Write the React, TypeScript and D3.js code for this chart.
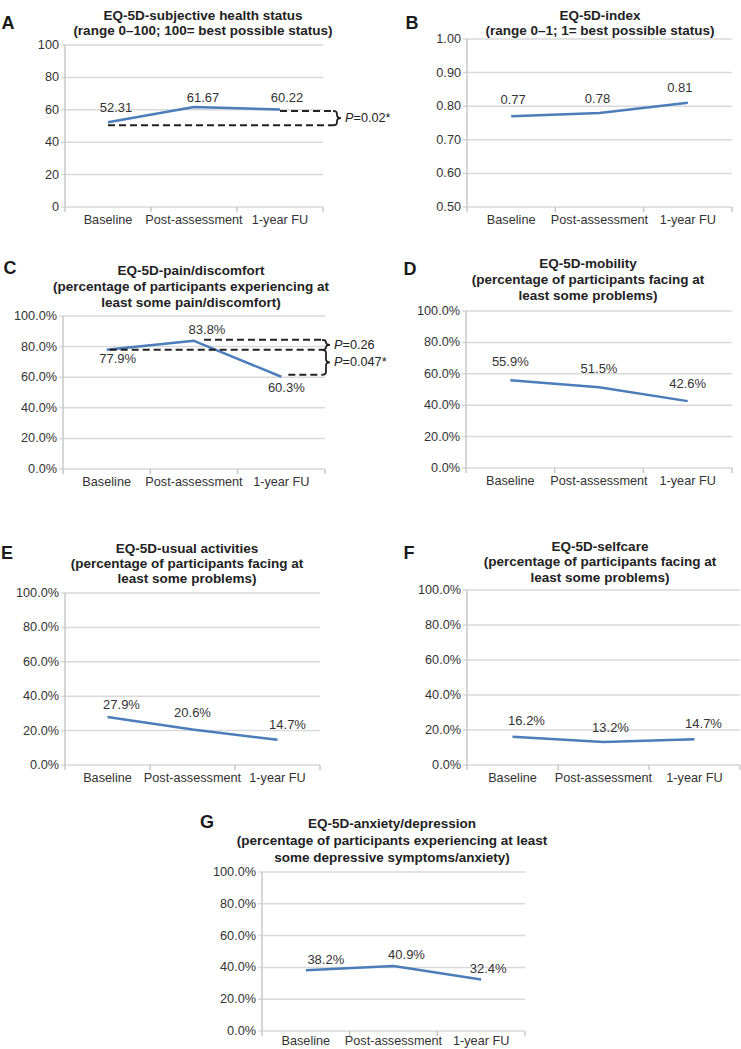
import React, { useRef, useEffect } from "react";
import * as d3 from "d3";

// categories on every x axis
const categories = ["Baseline", "Post-assessment", "1-year FU"];

// series values
const healthStatus = [52.31, 61.67, 60.22];
const eqIndex = [0.77, 0.78, 0.81];
const painDiscomfort = [77.9, 83.8, 60.3];
const mobility = [55.9, 51.5, 42.6];
const usualActivities = [27.9, 20.6, 14.7];
const selfcare = [16.2, 13.2, 14.7];
const anxietyDepression = [38.2, 40.9, 32.4];

// tick values
const scoreTicks = [0, 20, 40, 60, 80, 100];
const indexTicks = [0.5, 0.6, 0.7, 0.8, 0.9, 1.0];
const percentTicks = [0, 20, 40, 60, 80, 100];

// significance tests: which two time points, and the p text
const healthTests = [{ a: 0, b: 2, p: "=0.02*" }];
const painTests = [
  { a: 1, b: 0, p: "=0.26" },
  { a: 0, b: 2, p: "=0.047*" },
];

const FONT = "'Liberation Sans', Arial, Helvetica, sans-serif";
const LINE = "#4a7dba";
const GRID = "#d9d9d9";

const fmtScore = (d) => String(d);
const fmtIndex = (d) => d.toFixed(2);
const fmtPct = (d) => d.toFixed(1) + "%";

const panels = [
  {
    letter: "A", letterX: 8, letterY: 23,
    title: ["EQ-5D-subjective health status", "(range 0–100; 100= best possible status)"],
    titleX: 203, titleY: 15, titleGap: 15,
    values: healthStatus, ticks: scoreTicks, domain: [0, 100],
    tickFmt: fmtScore, valueFmt: (d) => d.toFixed(2),
    box: { l: 65, r: 323, t: 45, b: 207 }, xLabelGap: 13,
    labelOff: [[8, -15], [9, -10], [7, -12]],
    tests: healthTests, braceX: 333, dashStart: [0, 0, 0], dashShift: [3, 0, 1.5],
  },
  {
    letter: "B", letterX: 412, letterY: 23,
    title: ["EQ-5D-index", "(range 0–1; 1= best possible status)"],
    titleX: 600, titleY: 15, titleGap: 15,
    values: eqIndex, ticks: indexTicks, domain: [0.5, 1.0],
    tickFmt: fmtIndex, valueFmt: fmtIndex,
    box: { l: 467, r: 732, t: 39, b: 207 }, xLabelGap: 13,
    labelOff: [[2, -17], [-2, -14], [-8, -15]],
  },
  {
    letter: "C", letterX: 10, letterY: 268,
    title: ["EQ-5D-pain/discomfort", "(percentage of participants experiencing at", "least some pain/discomfort)"],
    titleX: 191, titleY: 270, titleGap: 16,
    values: painDiscomfort, ticks: percentTicks, domain: [0, 100],
    tickFmt: fmtPct, valueFmt: fmtPct,
    box: { l: 63, r: 325, t: 316, b: 469 }, xLabelGap: 13,
    labelOff: [[11, 9], [13, -11], [5, 11]],
    tests: painTests, braceX: 322, dashStart: [3, 10, 7], dashShift: [0, -1, -2],
  },
  {
    letter: "D", letterX: 410, letterY: 269,
    title: ["EQ-5D-mobility", "(percentage of participants facing at", "least some problems)"],
    titleX: 588, titleY: 263, titleGap: 16,
    values: mobility, ticks: percentTicks, domain: [0, 100],
    tickFmt: fmtPct, valueFmt: fmtPct,
    box: { l: 466, r: 732, t: 311, b: 468 }, xLabelGap: 13,
    labelOff: [[0, -19], [0, -19], [0, -18]],
  },
  {
    letter: "E", letterX: 7, letterY: 553,
    title: ["EQ-5D-usual activities", "(percentage of participants facing at", "least some problems)"],
    titleX: 187, titleY: 548, titleGap: 15,
    values: usualActivities, ticks: percentTicks, domain: [0, 100],
    tickFmt: fmtPct, valueFmt: fmtPct,
    box: { l: 65, r: 320, t: 593, b: 765 }, xLabelGap: 13,
    labelOff: [[14, -13], [0, -17], [10, -15]],
  },
  {
    letter: "F", letterX: 409, letterY: 553,
    title: ["EQ-5D-selfcare", "(percentage of participants facing at", "least some problems)"],
    titleX: 600, titleY: 546, titleGap: 15.5,
    values: selfcare, ticks: percentTicks, domain: [0, 100],
    tickFmt: fmtPct, valueFmt: fmtPct,
    box: { l: 467, r: 740, t: 590, b: 765 }, xLabelGap: 13,
    labelOff: [[14, -16], [7, -14], [9, -16]],
  },
  {
    letter: "G", letterX: 207, letterY: 822,
    title: ["EQ-5D-anxiety/depression", "(percentage of participants experiencing at least", "some depressive symptoms/anxiety)"],
    titleX: 392, titleY: 823, titleGap: 17,
    values: anxietyDepression, ticks: percentTicks, domain: [0, 100],
    tickFmt: fmtPct, valueFmt: fmtPct,
    box: { l: 262, r: 525, t: 872, b: 1031 }, xLabelGap: 10,
    labelOff: [[20, -11], [13, -11], [7, -11]],
  },
];

// curly brace "}" between y1 and y2
function bracePath(x, y1, y2) {
  const top = Math.min(y1, y2);
  const bot = Math.max(y1, y2);
  const m = (top + bot) / 2;
  const w = 4;
  const r = Math.min(3, (bot - top) / 4);
  return `M${x},${top} Q${x + w},${top} ${x + w},${top + r} L${x + w},${m - r} Q${x + w},${m} ${x + w + 4},${m} Q${x + w},${m} ${x + w},${m + r} L${x + w},${bot - r} Q${x + w},${bot} ${x},${bot}`;
}

const App = () => {
  const svgRef = useRef(null);

  useEffect(() => {
    const svg = d3.select(svgRef.current);
    svg.selectAll("*").remove();

    panels.forEach((p) => {
      const g = svg.append("g");
      const { l, r, t, b } = p.box;

      const x = d3.scaleBand().domain(categories).range([l, r]).padding(0);
      const y = d3.scaleLinear().domain(p.domain).range([b, t]);
      const cx = (c) => x(c) + x.bandwidth() / 2;

      // panel letter
      g.append("text")
        .attr("x", p.letterX)
        .attr("y", p.letterY)
        .attr("text-anchor", "middle")
        .attr("dominant-baseline", "central")
        .attr("font-family", FONT)
        .attr("font-weight", "bold")
        .attr("font-size", 18)
        .attr("fill", "#1a1a1a")
        .text(p.letter);

      // title
      p.title.forEach((line, i) => {
        g.append("text")
          .attr("x", p.titleX)
          .attr("y", p.titleY + i * p.titleGap)
          .attr("text-anchor", "middle")
          .attr("dominant-baseline", "central")
          .attr("font-family", FONT)
          .attr("font-weight", "bold")
          .attr("font-size", 13.5)
          .attr("fill", "#222")
          .text(line);
      });

      // gridlines + y tick marks + labels
      p.ticks.forEach((tv) => {
        g.append("line")
          .attr("x1", l - 4).attr("x2", r)
          .attr("y1", y(tv)).attr("y2", y(tv))
          .attr("stroke", GRID).attr("stroke-width", 1.5);
        g.append("text")
          .attr("x", l - 6)
          .attr("y", y(tv))
          .attr("text-anchor", "end")
          .attr("dominant-baseline", "central")
          .attr("font-family", FONT)
          .attr("font-size", 12.7)
          .attr("fill", "#333")
          .text(p.tickFmt(tv));
      });

      // y axis line
      g.append("line")
        .attr("x1", l).attr("x2", l)
        .attr("y1", t).attr("y2", b)
        .attr("stroke", "#c8c8c8").attr("stroke-width", 1.5);

      // x axis tick marks at band edges
      d3.range(categories.length + 1).forEach((i) => {
        const tx = l + i * x.bandwidth();
        g.append("line")
          .attr("x1", tx).attr("x2", tx)
          .attr("y1", b).attr("y2", b + 5)
          .attr("stroke", "#c8c8c8").attr("stroke-width", 1.5);
      });

      // x labels
      categories.forEach((c) => {
        g.append("text")
          .attr("x", cx(c))
          .attr("y", b + p.xLabelGap)
          .attr("text-anchor", "middle")
          .attr("dominant-baseline", "central")
          .attr("font-family", FONT)
          .attr("font-size", 12.7)
          .attr("fill", "#333")
          .text(c);
      });

      // the series line
      const aLine = d3
        .line()
        .x((v, i) => cx(categories[i]))
        .y((v) => y(v));
      g.append("path")
        .datum(p.values)
        .attr("d", aLine)
        .attr("fill", "none")
        .attr("stroke", LINE)
        .attr("stroke-width", 2.5)
        .attr("stroke-linejoin", "round");

      // value labels
      p.values.forEach((v, i) => {
        g.append("text")
          .attr("x", cx(categories[i]) + p.labelOff[i][0])
          .attr("y", y(v) + p.labelOff[i][1])
          .attr("text-anchor", "middle")
          .attr("dominant-baseline", "central")
          .attr("font-family", FONT)
          .attr("font-size", 13)
          .attr("fill", "#333")
          .text(p.valueFmt(v));
      });

      // significance annotations
      if (p.tests) {
        const used = new Set();
        p.tests.forEach((tst) => { used.add(tst.a); used.add(tst.b); });
        const dy = (i) => y(p.values[i]) + p.dashShift[i];
        used.forEach((i) => {
          g.append("line")
            .attr("x1", cx(categories[i]) + p.dashStart[i])
            .attr("x2", p.braceX)
            .attr("y1", dy(i)).attr("y2", dy(i))
            .attr("stroke", "#222")
            .attr("stroke-width", 2)
            .attr("stroke-dasharray", "7,4");
        });
        p.tests.forEach((tst) => {
          const y1 = dy(tst.a);
          const y2 = dy(tst.b);
          g.append("path")
            .attr("d", bracePath(p.braceX, y1, y2))
            .attr("fill", "none")
            .attr("stroke", "#222")
            .attr("stroke-width", 1.8);
          const tx = g.append("text")
            .attr("x", p.braceX + 12)
            .attr("y", (y1 + y2) / 2)
            .attr("dominant-baseline", "central")
            .attr("font-family", FONT)
            .attr("font-size", 12.7)
            .attr("fill", "#222");
          tx.append("tspan").attr("font-style", "italic").text("P");
          tx.append("tspan").text(tst.p);
        });
      }
    });
  }, []);

  return (
    <svg
      ref={svgRef}
      width={741}
      height={1049}
      style={{ position: "absolute", left: 0, top: 0, background: "#fff" }}
    />
  );
};

export default App;
